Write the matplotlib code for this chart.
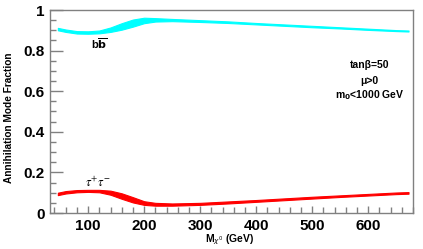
import matplotlib
matplotlib.use('Agg')
import matplotlib.pyplot as plt
from matplotlib.ticker import MultipleLocator

# neutralino mass (GeV)
mass = [46, 60, 80, 100, 120, 140, 160, 180, 200, 220, 250, 300, 350, 400, 450, 500, 550, 600, 650, 672]

# b bbar fraction band
bb_lo = [0.900, 0.892, 0.884, 0.883, 0.885, 0.892, 0.903, 0.918, 0.935, 0.943,
         0.945, 0.941, 0.936, 0.929, 0.922, 0.915, 0.909, 0.902, 0.896, 0.894]
bb_hi = [0.912, 0.904, 0.896, 0.895, 0.899, 0.914, 0.935, 0.953, 0.962, 0.960,
         0.956, 0.950, 0.944, 0.936, 0.929, 0.922, 0.915, 0.908, 0.901, 0.899]

# tau tau fraction band
tau_lo = [0.088, 0.096, 0.102, 0.104, 0.102, 0.090, 0.070, 0.052, 0.040, 0.036,
          0.036, 0.040, 0.047, 0.055, 0.063, 0.071, 0.079, 0.086, 0.093, 0.095]
tau_hi = [0.100, 0.108, 0.113, 0.114, 0.114, 0.110, 0.097, 0.078, 0.058, 0.050,
          0.047, 0.050, 0.057, 0.064, 0.072, 0.080, 0.087, 0.094, 0.101, 0.103]

plt.rcParams['font.family'] = ['Liberation Sans', 'DejaVu Sans']

fig = plt.figure(figsize=(4.23, 2.49), dpi=100)
ax = fig.add_axes([50 / 423, 1 - 213 / 249, 363 / 423, 203 / 249])

ax.fill_between(mass, bb_lo, bb_hi, color='#00ffff', lw=0.8, edgecolor='#00ffff')
ax.fill_between(mass, tau_lo, tau_hi, color='#ff0000', lw=0.8, edgecolor='#ff0000')

ax.set_xlim(32, 680)
ax.set_ylim(0, 1)

ax.xaxis.set_major_locator(MultipleLocator(100))
ax.xaxis.set_minor_locator(MultipleLocator(20))
ax.yaxis.set_minor_locator(MultipleLocator(0.05))
ax.set_yticks([0, 0.2, 0.4, 0.6, 0.8, 1])
ax.set_yticklabels(['0', '0.2', '0.4', '0.6', '0.8', '1'])

ax.tick_params(which='both', direction='in', color='#808080', width=1,
               top=False, right=False, labelsize=11)
ax.tick_params(axis='y', which='major', length=9, pad=4)
ax.tick_params(axis='y', which='minor', length=4)
ax.tick_params(axis='x', which='major', length=5, pad=4)
ax.tick_params(axis='x', which='minor', length=4)
for lab in ax.get_xticklabels() + ax.get_yticklabels():
    lab.set_fontweight('bold')
for sp in ax.spines.values():
    sp.set_color('#808080')
    sp.set_linewidth(1)

ax.set_ylabel('Annihilation Mode Fraction', fontsize=7.3, fontweight='bold')
ax.yaxis.set_label_coords(-0.098, 0.47)
fig.text(230 / 423, 1 - 240 / 249, r'M$_{\chi^0}$ (GeV)', fontsize=7.5,
         fontweight='bold', ha='center', va='center')

ax.text(120, 0.835, r'b$\mathbf{\overline{b}}$', fontsize=8, fontweight='bold',
        ha='center', va='center')
ax.text(118, 0.15, r'$\tau^{+}\tau^{-}$', fontsize=9, ha='center', va='center',
        family='Liberation Serif', math_fontfamily='stix')

tx = 602
ax.text(tx, 0.73, 'tanβ=50', fontsize=7.5, fontweight='bold', ha='center', va='center')
ax.text(tx, 0.652, 'μ>0', fontsize=7.5, fontweight='bold', ha='center', va='center')
ax.text(tx, 0.582, r'm$_\mathbf{0}$<1000 GeV', fontsize=7.5, fontweight='bold',
        ha='center', va='center')

fig.savefig('out.png', dpi=100)
